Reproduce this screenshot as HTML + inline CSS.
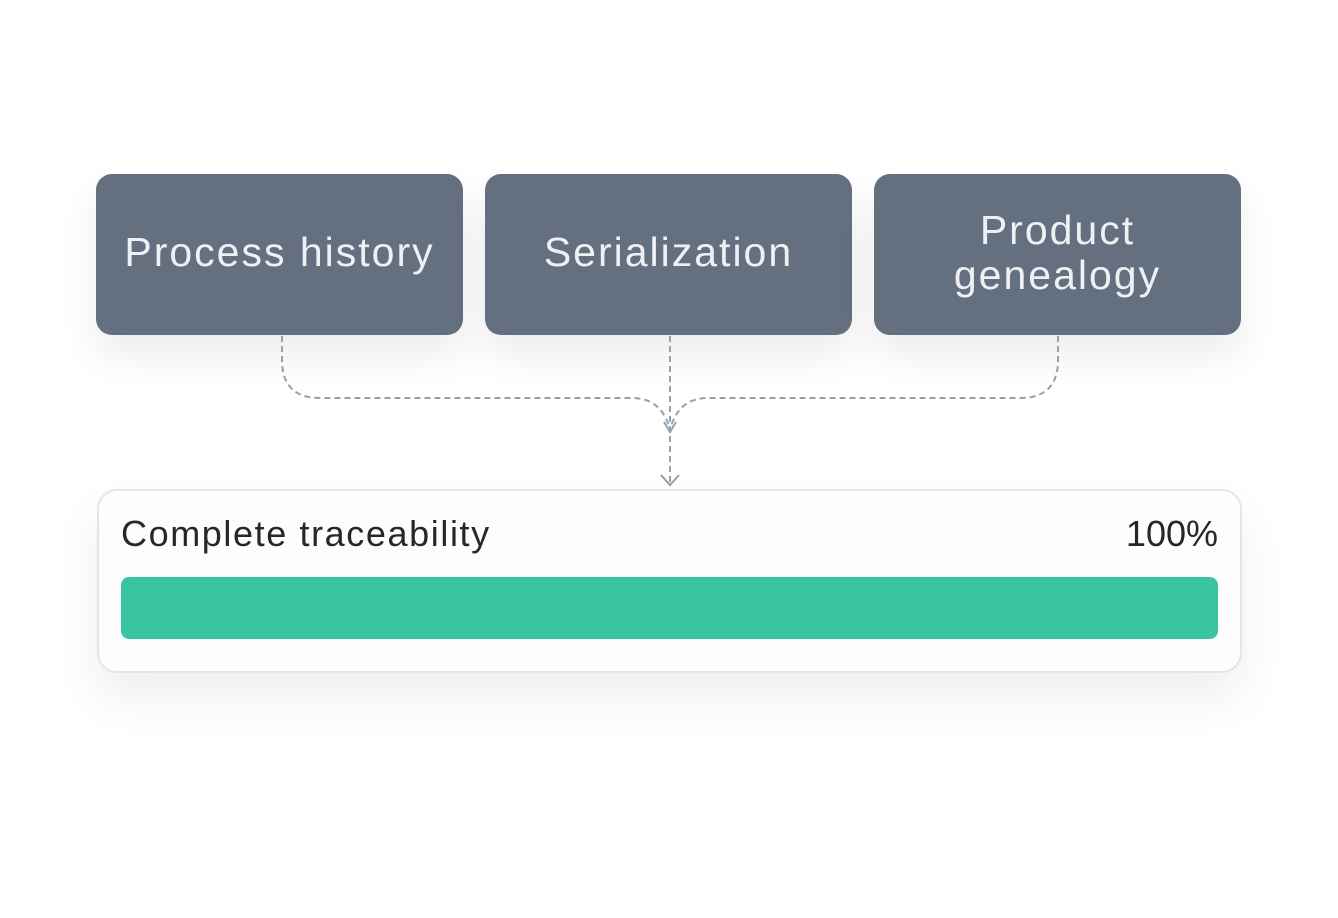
<!DOCTYPE html>
<html><head><style>
body{margin:0;width:1338px;height:918px;background:#fff;position:relative;font-family:"Liberation Sans",sans-serif;overflow:hidden}
.n{position:absolute;top:174px;width:367px;height:161px;background:#64707f;border-radius:16px;color:#eef0f3;font-size:41px;letter-spacing:2px;display:flex;align-items:center;justify-content:center;text-align:center;line-height:45px;box-shadow:0 20px 40px rgba(0,0,0,0.08);padding-bottom:4px;box-sizing:border-box}
.card{position:absolute;left:97px;top:489px;width:1141px;height:180px;border:2px solid #e3e5e9;border-radius:20px;background:#fdfdfd;box-shadow:0 25px 50px rgba(0,0,0,0.07)}
.t{position:absolute;top:22px;font-size:36px;letter-spacing:1.6px;color:#26272b}
.bar{position:absolute;left:22px;top:86px;width:1097px;height:62px;background:#3bc4a0;border-radius:8px}
</style></head><body>
<div class="n" style="left:96px">Process history</div>
<div class="n" style="left:485px">Serialization</div>
<div class="n" style="left:874px">Product<br>genealogy</div>
<svg style="position:absolute;left:0;top:0" width="1338" height="918">
<g fill="none" stroke="#94a0b0" stroke-width="2" stroke-dasharray="6 4">
<path d="M282 336 V360 Q282 398 320 398 H632 Q662 398 670 430"/>
<path d="M1058 336 V360 Q1058 398 1020 398 H708 Q678 398 670 430"/>
<path d="M670 336 V484"/>
</g>
<g fill="none" stroke="#94a0b0" stroke-width="2">
<path d="M664 422 L670 432 L676 422"/>
<path d="M661 475 L670 485 L679 475"/>
</g>
</svg>
<div class="card">
<div class="t" style="left:22px">Complete traceability</div>
<div class="t" style="right:22px;letter-spacing:0">100%</div>
<div class="bar"></div>
</div>
</body></html>
